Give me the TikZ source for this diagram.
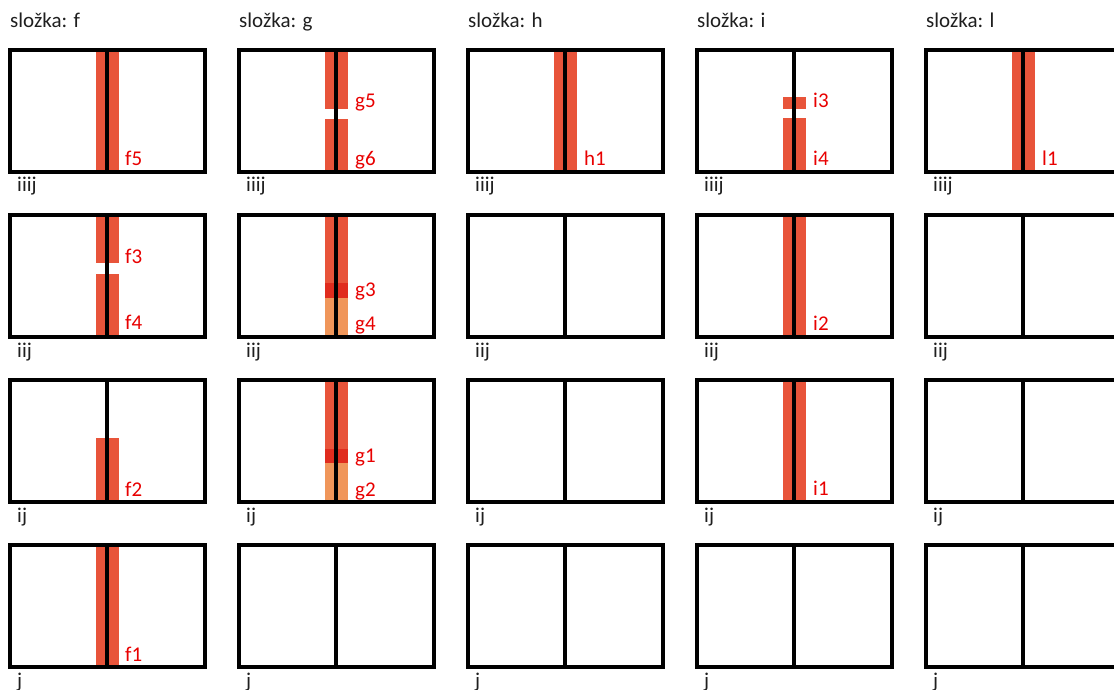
\documentclass[tikz,border=0pt]{standalone}
\usepackage{fontspec}
\setmainfont{Carlito}
\definecolor{barred}{RGB}{232,84,58}
\definecolor{bardark}{RGB}{224,44,30}
\definecolor{barorange}{RGB}{240,150,90}
\definecolor{lblred}{RGB}{232,0,0}
\begin{document}
\begin{tikzpicture}[x=1pt,y=-1pt,
  frame/.style={draw=black,line width=3.5pt},
  txt/.style={font=\fontsize{21}{25}\selectfont,inner sep=0pt,anchor=base west,text=black!88},
  redlbl/.style={txt,text=lblred}]
\useasboundingbox (0,0) rectangle (1114,690);
\clip (0,0) rectangle (1114,690);
% headers
\node[txt] (hf) at (10,28) {složka: f};
\node[txt] (hg) at (239,28) {složka: g};
\node[txt] (hh) at (468,28) {složka: h};
\node[txt] (hi) at (697,28) {složka: i};
\node[txt] (hl) at (926,28) {složka: l};
% bars: column f (left 10)
\fill[barred] (95.5,50) rectangle (119,172);
\fill[barred] (95.5,215) rectangle (119,263);
\fill[barred] (95.5,274) rectangle (119,337);
\fill[barred] (95.5,438) rectangle (119,502);
\fill[barred] (95.5,545) rectangle (119,667);
% column g (left 239)
\fill[barred] (324.5,50) rectangle (348,109);
\fill[barred] (324.5,119) rectangle (348,172);
\fill[barred] (324.5,215) rectangle (348,283);
\fill[bardark] (324.5,283) rectangle (348,298);
\fill[barorange] (324.5,298) rectangle (348,337);
\fill[barred] (324.5,380) rectangle (348,449);
\fill[bardark] (324.5,449) rectangle (348,463);
\fill[barorange] (324.5,463) rectangle (348,502);
% column h (left 468)
\fill[barred] (553.5,50) rectangle (577,172);
% column i (left 697)
\fill[barred] (782.5,97) rectangle (806,109);
\fill[barred] (782.5,118) rectangle (806,172);
\fill[barred] (782.5,215) rectangle (806,337);
\fill[barred] (782.5,380) rectangle (806,502);
% column l (left 926)
\fill[barred] (1011.5,50) rectangle (1035,172);
% frames and row labels
\foreach \c in {0,...,4}{
  \foreach \r/\lab in {0/iiij,1/iij,2/ij,3/j}{
    \pgfmathsetmacro\l{10+229*\c}
    \pgfmathsetmacro\t{50+165*\r}
    \draw[frame] (\l,\t) rectangle (\l+195,\t+122);
    \draw[frame] (\l+97,\t) -- (\l+97,\t+122);
    \node[txt] (row\c\r) at (\l+7,\t+142) {\lab};
  }
}
% red labels
\node[redlbl] (f5) at (125,166) {f5};
\node[redlbl] (f3) at (125,263) {f3};
\node[redlbl] (f4) at (125,329) {f4};
\node[redlbl] (f2) at (125,496) {f2};
\node[redlbl] (f1) at (125,661) {f1};
\node[redlbl] (g5) at (355,108) {g5};
\node[redlbl] (g6) at (355,166) {g6};
\node[redlbl] (g3) at (355,296) {g3};
\node[redlbl] (g4) at (355,330) {g4};
\node[redlbl] (g1) at (355,462) {g1};
\node[redlbl] (g2) at (355,496) {g2};
\node[redlbl] (h1) at (584,166) {h1};
\node[redlbl] (i3) at (813,108) {i3};
\node[redlbl] (i4) at (813,165) {i4};
\node[redlbl] (i2) at (813,330) {i2};
\node[redlbl] (i1) at (813,495) {i1};
\node[redlbl] (l1) at (1042,166) {l1};
\end{tikzpicture}
\end{document}
